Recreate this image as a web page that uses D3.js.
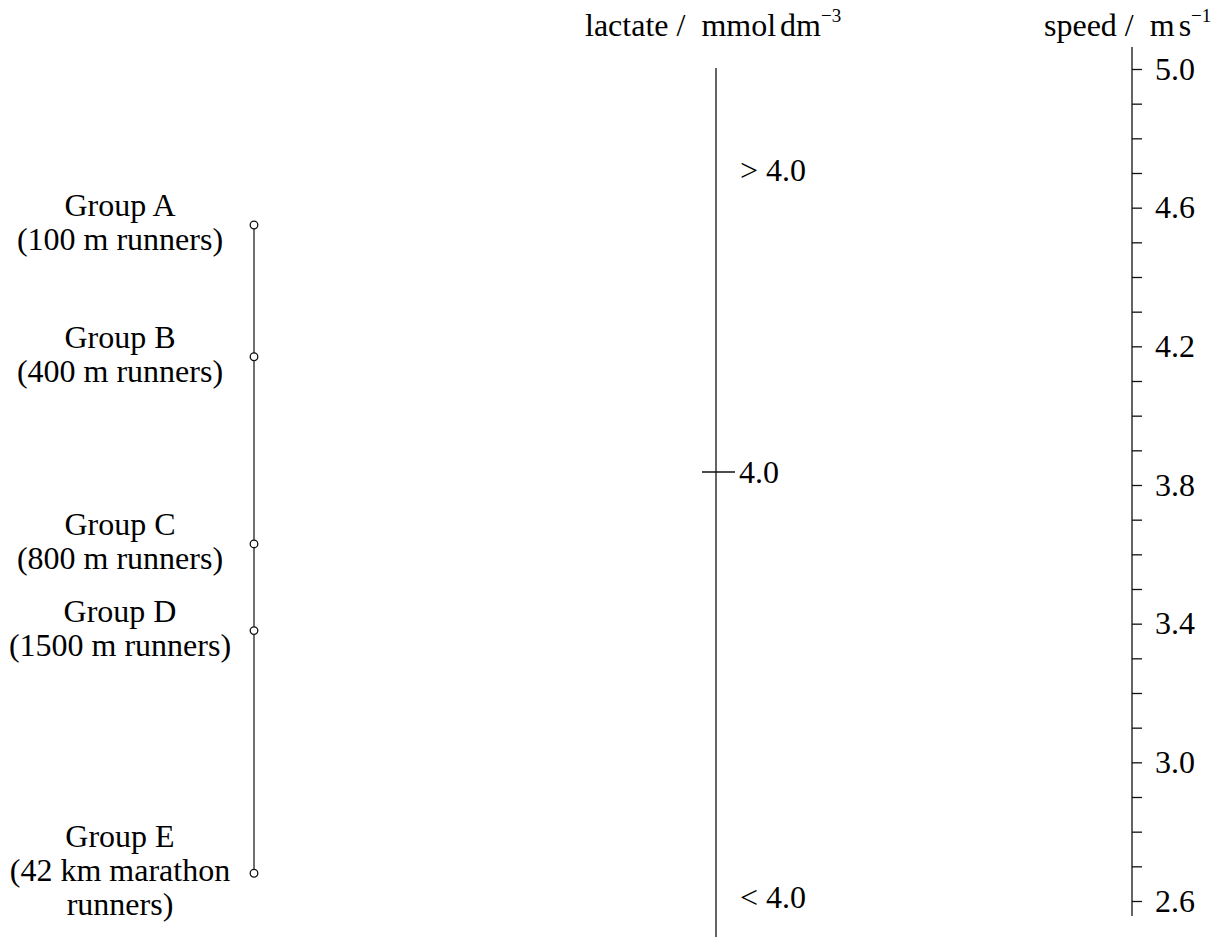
<!DOCTYPE html>
<html><head><meta charset="utf-8">
<script src="https://cdn.jsdelivr.net/npm/d3@7"></script>
<style>
body{margin:0;background:#fff}
text{font-family:"Liberation Serif","Times New Roman",serif;fill:#000}
</style>
</head><body>
<svg id="c" width="1216" height="938"></svg>
<script>
// ---- data ----
const groupNames = ["Group A", "Group B", "Group C", "Group D", "Group E"];
const groupDetails = [["(100 m runners)"], ["(400 m runners)"], ["(800 m runners)"], ["(1500 m runners)"], ["(42 km marathon", "runners)"]];
const groupSpeeds = [4.55, 4.17, 3.63, 3.38, 2.68];
const speedTicks = [2.6, 2.7, 2.8, 2.9, 3.0, 3.1, 3.2, 3.3, 3.4, 3.5, 3.6, 3.7, 3.8, 3.9, 4.0, 4.1, 4.2, 4.3, 4.4, 4.5, 4.6, 4.7, 4.8, 4.9, 5.0];
const speedLabels = [2.6, 3.0, 3.4, 3.8, 4.2, 4.6, 5.0];
const lactateLabels = ["> 4.0", "4.0", "< 4.0"];
const lactateTitle = "lactate /  mmol", lactateUnit = "dm", lactateExp = "\u22123";
const speedTitle = "speed /  m", speedUnit = "s", speedExp = "\u22121";

// ---- layout ----
const svg = d3.select("#c");
const FS = 32;
const xLeft = 254, xMid = 716, xRight = 1132;
const y = d3.scaleLinear().domain([2.6, 5.0]).range([901, 69]);
const lacPos = {"> 4.0": 170, "4.0": 472, "< 4.0": 897};
const lacY = d => lacPos[d];

// left axis (groups)
svg.append("line").attr("x1", xLeft).attr("x2", xLeft)
  .attr("y1", y(d3.max(groupSpeeds))).attr("y2", y(d3.min(groupSpeeds)))
  .attr("stroke", "#222").attr("stroke-width", 1.3);
groupSpeeds.forEach((v, i) => {
  const cy = y(v);
  svg.append("circle").attr("cx", xLeft).attr("cy", cy).attr("r", 3.8)
    .attr("fill", "#fff").attr("stroke", "#111").attr("stroke-width", 1.3);
  const lines = [groupNames[i]].concat(groupDetails[i]);
  const n = lines.length;
  const t = svg.append("text").attr("text-anchor", "middle").attr("font-size", FS)
    .style("white-space", "pre");
  lines.forEach((l, j) => {
    t.append("tspan").attr("x", 120).attr("y", cy + (j - (n - 1) / 2) * 34 + 8).text(l);
  });
});

// middle axis (lactate)
svg.append("line").attr("x1", xMid).attr("x2", xMid).attr("y1", 68).attr("y2", 937)
  .attr("stroke", "#111").attr("stroke-width", 1.3);
lactateLabels.forEach(l => {
  const yy = lacY(l);
  if (l === "4.0") {
    svg.append("line").attr("x1", xMid - 14).attr("x2", xMid + 19).attr("y1", yy).attr("y2", yy)
      .attr("stroke", "#111").attr("stroke-width", 1.3);
    svg.append("text").attr("x", 739).attr("y", yy).attr("dy", "0.33em").attr("font-size", FS).text(l);
  } else {
    svg.append("text").attr("x", 740).attr("y", yy).attr("dy", "0.33em").attr("font-size", FS)
      .style("white-space", "pre").text(l);
  }
});

// right axis (speed)
svg.append("line").attr("x1", xRight).attr("x2", xRight).attr("y1", 47).attr("y2", 916)
  .attr("stroke", "#111").attr("stroke-width", 1.3);
const ax = svg.append("g").attr("transform", `translate(${xRight},0)`)
  .call(d3.axisRight(y).tickValues(speedTicks).tickSize(10).tickPadding(13)
    .tickFormat(d => speedLabels.some(s => Math.abs(s - d) < 1e-9) ? d3.format(".1f")(d) : ""));
ax.select(".domain").remove();
ax.selectAll(".tick line").attr("stroke", "#111").attr("stroke-width", 1.3);
ax.selectAll(".tick text").attr("font-size", FS).attr("fill", "#000");

// headers
function header(x, title, unit, exp) {
  const t = svg.append("text").attr("x", x).attr("y", 36).attr("font-size", 32).style("white-space", "pre");
  t.append("tspan").text(title);
  t.append("tspan").attr("dx", 4).text(unit);
  t.append("tspan").attr("dy", -14).attr("font-size", 19).text(exp);
}
header(585, lactateTitle, lactateUnit, lactateExp);
header(1044, speedTitle, speedUnit, speedExp);
</script>
</body></html>
